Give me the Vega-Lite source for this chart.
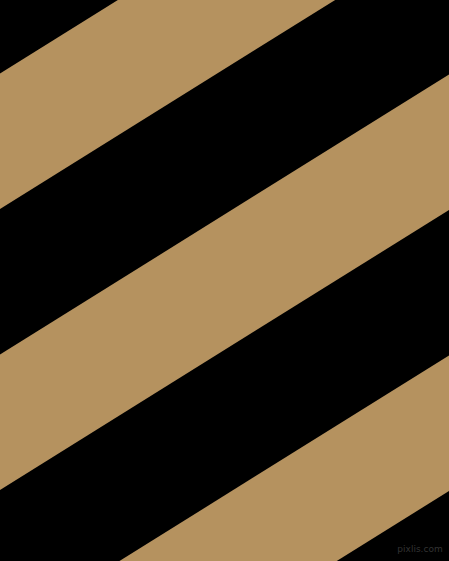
{
  "$schema": "https://vega.github.io/schema/vega-lite/v6.json",
  "width": 449,
  "height": 561,
  "autosize": {"type": "fit", "contains": "padding"},
  "padding": 0,
  "background": "#000000",
  "view": {"stroke": null},
  "datasets": {
    "stripes": [
      {"stripe": "A", "x": 0, "top": 73.5, "bottom": 209},
      {"stripe": "A", "x": 449, "top": -206.5, "bottom": -71},
      {"stripe": "B", "x": 0, "top": 354.5, "bottom": 490},
      {"stripe": "B", "x": 449, "top": 74.5, "bottom": 210},
      {"stripe": "C", "x": 0, "top": 635.5, "bottom": 771},
      {"stripe": "C", "x": 449, "top": 355.5, "bottom": 491}
    ],
    "mark": [
      {"x": 420, "y": 549, "label": "pixlis.com"}
    ]
  },
  "layer": [
    {
      "data": {"name": "stripes"},
      "mark": {"type": "area", "clip": true, "color": "#b5925f", "interpolate": "linear"},
      "encoding": {
        "x": {"field": "x", "type": "quantitative", "scale": {"domain": [0, 449], "nice": false, "zero": false}, "axis": null},
        "y": {"field": "top", "type": "quantitative", "scale": {"domain": [0, 561], "nice": false, "zero": false, "reverse": true}, "axis": null},
        "y2": {"field": "bottom"},
        "detail": {"field": "stripe", "type": "nominal"}
      }
    },
    {
      "data": {"name": "mark"},
      "mark": {"type": "text", "font": "DejaVu Sans", "fontSize": 9, "color": "#333333", "align": "center", "baseline": "middle"},
      "encoding": {
        "x": {"field": "x", "type": "quantitative"},
        "y": {"field": "y", "type": "quantitative"},
        "text": {"field": "label"}
      }
    }
  ]
}
